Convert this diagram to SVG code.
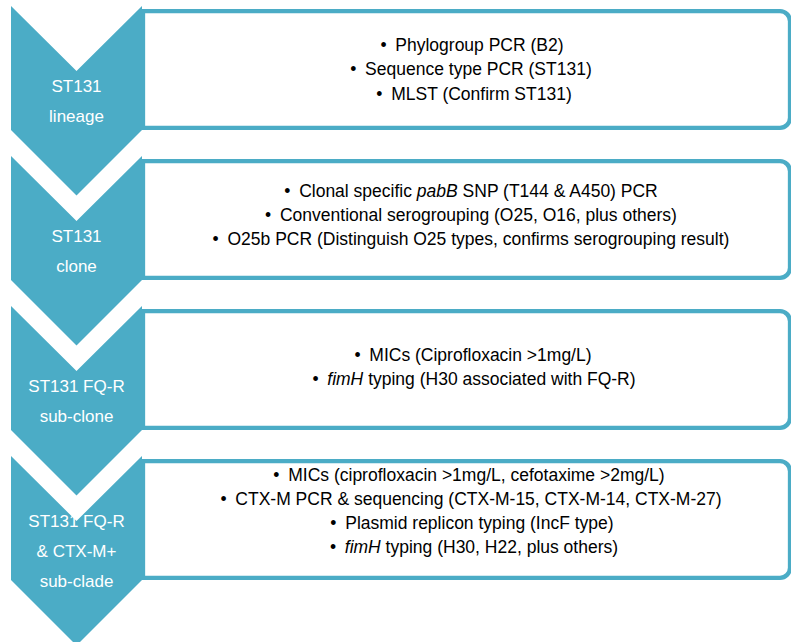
<svg xmlns="http://www.w3.org/2000/svg" width="791" height="642" viewBox="0 0 791 642">
<style>
.box{fill:#fff;stroke:#4BACC6;stroke-width:4.3}
.chev{fill:#4BACC6}
.lbl{font-family:"Liberation Sans",Arial,sans-serif;font-size:17px;fill:#fff;text-anchor:middle}
.txt{font-family:"Liberation Sans",Arial,sans-serif;font-size:17.5px;fill:#000;text-anchor:middle}
.i{font-style:italic}
</style>
<g id="connectors"/>
<g id="box1"><path class="box" d="M143,11.2 H780 A10,10 0 0 1 790,21.2 V117.8 A10,10 0 0 1 780,127.8 H143 Z"/>
<text class="txt" x="472" y="50.5">•&#8194;Phylogroup PCR (B2)</text>
<text class="txt" x="471" y="75">•&#8194;Sequence type PCR (ST131)</text>
<text class="txt" x="474" y="99.5">•&#8194;MLST (Confirm ST131)</text>
</g>
<g id="box2"><path class="box" d="M143,161.2 H780 A10,10 0 0 1 790,171.2 V267.8 A10,10 0 0 1 780,277.8 H143 Z"/>
<text class="txt" x="471" y="197">•&#8194;Clonal specific <tspan class="i">pabB</tspan> SNP (T144 &amp; A450) PCR</text>
<text class="txt" x="471" y="221">•&#8194;Conventional serogrouping (O25, O16, plus others)</text>
<text class="txt" x="471" y="245">•&#8194;O25b PCR (Distinguish O25 types, confirms serogrouping result)</text>
</g>
<g id="box3"><path class="box" d="M143,311.2 H780 A10,10 0 0 1 790,321.2 V417.8 A10,10 0 0 1 780,427.8 H143 Z"/>
<text class="txt" x="473" y="361">•&#8194;MICs (Ciprofloxacin &gt;1mg/L)</text>
<text class="txt" x="474" y="385">•&#8194;<tspan class="i">fimH</tspan> typing (H30 associated with FQ-R)</text>
</g>
<g id="box4"><path class="box" d="M143,461.2 H780 A10,10 0 0 1 790,471.2 V567.8 A10,10 0 0 1 780,577.8 H143 Z"/>
<text class="txt" x="469" y="481">•&#8194;MICs (ciprofloxacin &gt;1mg/L, cefotaxime &gt;2mg/L)</text>
<text class="txt" x="471" y="505">•&#8194;CTX-M PCR &amp; sequencing (CTX-M-15, CTX-M-14, CTX-M-27)</text>
<text class="txt" x="472" y="529">•&#8194;Plasmid replicon typing (IncF type)</text>
<text class="txt" x="474" y="553">•&#8194;<tspan class="i">fimH</tspan> typing (H30, H22, plus others)</text>
</g>
<g id="chevron1"><path class="chev" d="M11,6 L76.5,71 L142,6 V130 L76.5,195.5 L11,130 Z"/>
<text class="lbl" x="76.5" y="92">ST131</text><text class="lbl" x="76.5" y="122">lineage</text></g>
<g id="chevron2"><path class="chev" d="M11,156 L76.5,221 L142,156 V280 L76.5,345.5 L11,280 Z"/>
<text class="lbl" x="76.5" y="242">ST131</text><text class="lbl" x="76.5" y="272">clone</text></g>
<g id="chevron3"><path class="chev" d="M11,306 L76.5,371 L142,306 V430 L76.5,495.5 L11,430 Z"/>
<text class="lbl" x="76.5" y="392">ST131 FQ-R</text><text class="lbl" x="76.5" y="422">sub-clone</text></g>
<g id="chevron4"><path class="chev" d="M11,456 L76.5,521 L142,456 V580 L76.5,645.5 L11,580 Z"/>
<text class="lbl" x="76.5" y="527">ST131 FQ-R</text><text class="lbl" x="76.5" y="557">&amp; CTX-M+</text><text class="lbl" x="76.5" y="587">sub-clade</text></g>
</svg>
